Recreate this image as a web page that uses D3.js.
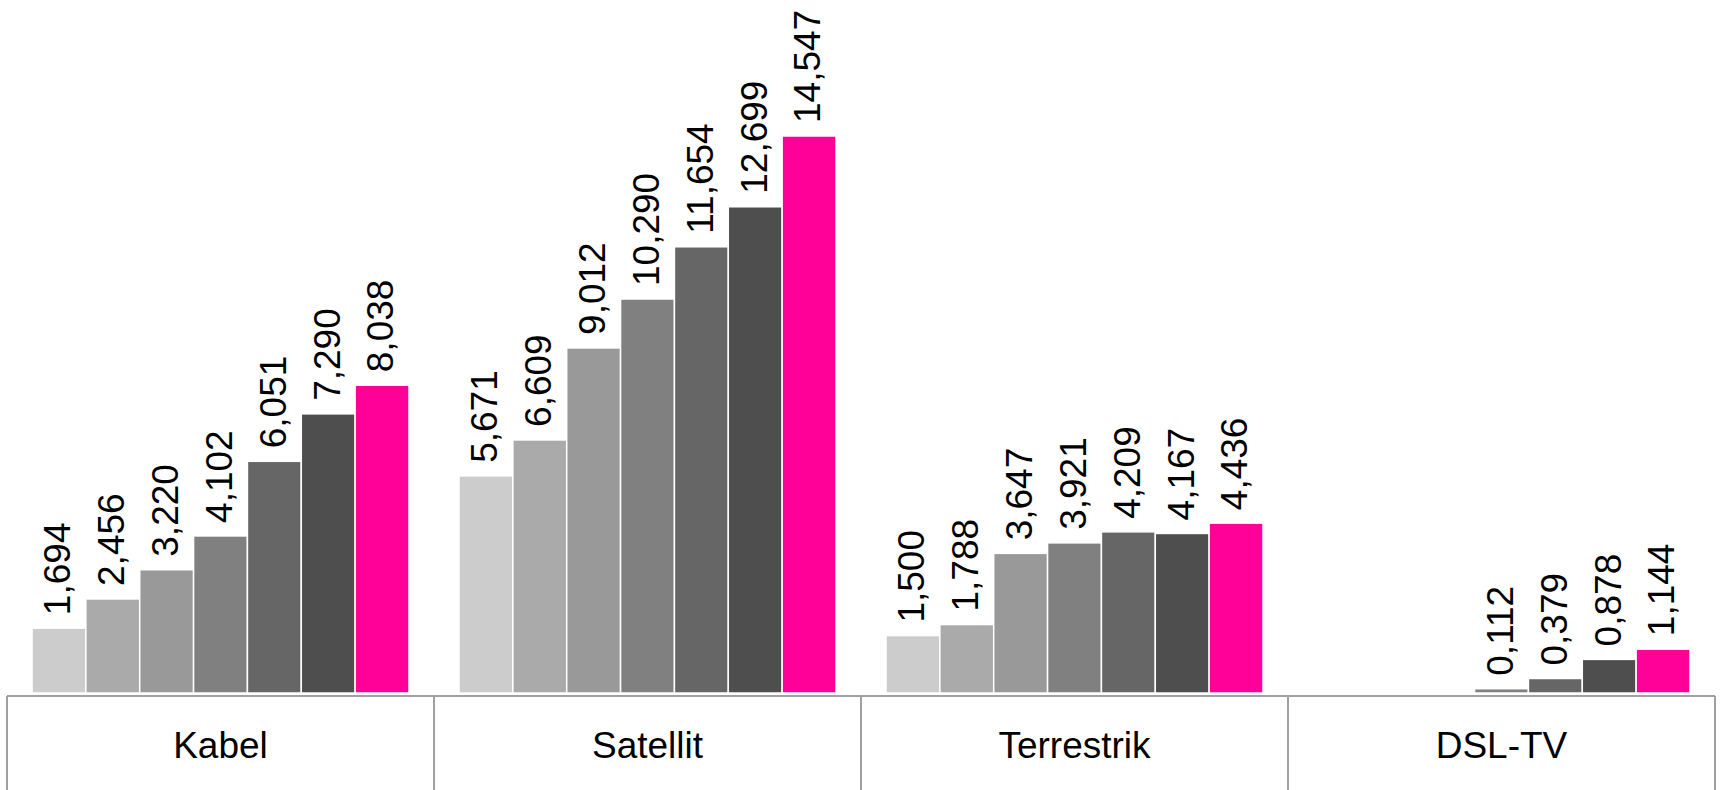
<!DOCTYPE html>
<html>
<head>
<meta charset="utf-8">
<script src="https://cdn.jsdelivr.net/npm/d3@7"></script>
<style>
    body { margin: 0; background: #fff; }
    svg { display: block; font-family: "Liberation Sans", Arial, sans-serif; }
</style>
</head>
<body>
<svg id="chart"></svg>
<script>
// Kategorien (Empfangswege) und Werte je Jahr-Reihe
const categories = ['Kabel', 'Satellit', 'Terrestrik', 'DSL-TV'];
const seriesNames = ['s1', 's2', 's3', 's4', 's5', 's6', 's7'];
const seriesColors = ['#cccccc', '#aaaaaa', '#999999', '#808080', '#666666', '#4e4e4e', '#ff0099'];

const kabel = [1.694, 2.456, 3.220, 4.102, 6.051, 7.290, 8.038];
const satellit = [5.671, 6.609, 9.012, 10.290, 11.654, 12.699, 14.547];
const terrestrik = [1.500, 1.788, 3.647, 3.921, 4.209, 4.167, 4.436];
const dsltv = [null, null, null, 0.112, 0.379, 0.878, 1.144];

const values = [kabel, satellit, terrestrik, dsltv];

const width = 1720, height = 790;
const axisY = 696;      // line under the bars
const baseY = 693;      // bar bottoms
const topY = 136;       // top of highest bar

const svg = d3.select('#chart')
    .attr('width', width)
    .attr('height', height);

// Scales
const x0 = d3.scaleBand()
    .domain(categories)
    .range([7, 1715]);

const groupPad = 25;
const x1 = d3.scaleBand()
    .domain(seriesNames)
    .range([groupPad, x0.bandwidth() - groupPad]);

const y = d3.scaleLinear()
    .domain([0, d3.max(values.flat())])
    .range([baseY, topY]);

const fmt = v => d3.format('.3f')(v).replace('.', ',');

// Bars and labels
const groups = svg.append('g').selectAll('g.cat')
    .data(categories)
    .join('g')
    .attr('class', 'cat')
    .attr('transform', d => `translate(${x0(d)},0)`);

const cells = groups.selectAll('g.bar')
    .data((d, i) => values[i].map((v, j) => ({ key: seriesNames[j], value: v, idx: j }))
        .filter(e => e.value !== null))
    .join('g')
    .attr('class', 'bar');

cells.append('rect')
    .attr('x', d => x1(d.key))
    .attr('y', d => y(d.value))
    .attr('width', x1.bandwidth())
    .attr('height', d => baseY - y(d.value))
    .attr('fill', d => seriesColors[d.idx])
    .attr('stroke', '#fff')
    .attr('stroke-width', 1.5);

cells.append('text')
    .attr('transform', d => `translate(${x1(d.key) + x1.bandwidth() / 2 - 2},${y(d.value) - 13}) rotate(-90)`)
    .attr('dy', '0.36em')
    .attr('text-anchor', 'start')
    .attr('font-size', 37)
    .attr('fill', '#000')
    .text(d => fmt(d.value));

// Category axis box
const axis = svg.append('g')
    .attr('stroke', '#a0a0a0')
    .attr('stroke-width', 2)
    .attr('fill', 'none');

axis.append('line')
    .attr('x1', x0.range()[0]).attr('x2', x0.range()[1])
    .attr('y1', axisY).attr('y2', axisY);

axis.selectAll('line.div')
    .data(categories.map(c => x0(c)).concat([x0.range()[1]]))
    .join('line')
    .attr('class', 'div')
    .attr('x1', d => d).attr('x2', d => d)
    .attr('y1', axisY).attr('y2', height);

svg.append('g').selectAll('text.cat')
    .data(categories)
    .join('text')
    .attr('class', 'cat')
    .attr('x', d => x0(d) + x0.bandwidth() / 2)
    .attr('y', 758)
    .attr('text-anchor', 'middle')
    .attr('font-size', 37)
    .attr('fill', '#000')
    .text(d => d);
</script>
</body>
</html>
